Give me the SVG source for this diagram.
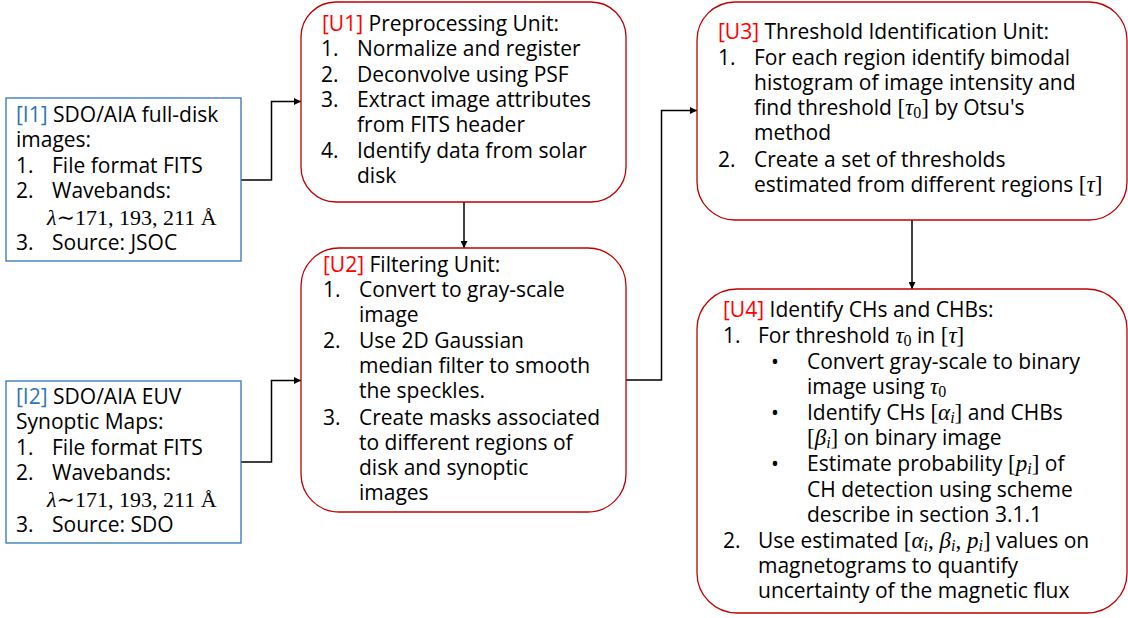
<svg xmlns="http://www.w3.org/2000/svg" width="1128" height="618" viewBox="0 0 1128 618">
<defs>
<style>
.t{font-family:"Open Sans","Liberation Sans",sans-serif;font-size:21px;fill:#000}
.m{font-family:"Liberation Serif","DejaVu Serif",serif;font-size:23px}
.w{font-family:"Liberation Serif","DejaVu Serif",serif;font-size:22px}
.i{font-style:italic}
.s{font-size:16px}
.lb{fill:#2E75B6}
.lr{fill:#FF0000}
.inb{fill:#fff;stroke:#2E75B6;stroke-width:1.3}
.unit{fill:#fff;stroke:#C00000;stroke-width:1.3}
.c{fill:none;stroke:#000;stroke-width:1.5}
</style>
<marker id="ah" viewBox="0 0 10 10" refX="10" refY="5" markerWidth="7" markerHeight="7" markerUnits="userSpaceOnUse" orient="auto">
<path d="M0,0 L10,5 L0,10 z" fill="#000"/>
</marker>
</defs>
<rect width="1128" height="618" fill="#fff"/>
<g id="connectors">
<polyline class="c" points="241,180 271.5,180 271.5,101.5 301,101.5" marker-end="url(#ah)"/>
<polyline class="c" points="241,462 271.5,462 271.5,380.5 301,380.5" marker-end="url(#ah)"/>
<polyline class="c" points="464,202 464,248" marker-end="url(#ah)"/>
<polyline class="c" points="626,380 661.5,380 661.5,110.5 697,110.5" marker-end="url(#ah)"/>
<polyline class="c" points="912,220 912,289" marker-end="url(#ah)"/>
</g>
<g id="I1">
<rect class="inb" x="6" y="98" width="235" height="163"/>
<text class="t">
<tspan x="16" y="122"><tspan class="lb">[I1]</tspan> SDO/AIA full-disk</tspan>
<tspan x="16" y="147">images:</tspan>
<tspan x="16" y="173">1.</tspan><tspan x="52" y="173">File format FITS</tspan>
<tspan x="16" y="198">2.</tspan><tspan x="52" y="198">Wavebands:</tspan>
<tspan x="47" y="225" class="w"><tspan class="i">λ</tspan>∼171, 193, 211 Å</tspan>
<tspan x="16" y="250">3.</tspan><tspan x="52" y="250">Source: JSOC</tspan>
</text>
</g>
<g id="I2">
<rect class="inb" x="6" y="381" width="235" height="162"/>
<text class="t">
<tspan x="16" y="404"><tspan class="lb">[I2]</tspan> SDO/AIA EUV</tspan>
<tspan x="16" y="429">Synoptic Maps:</tspan>
<tspan x="16" y="455">1.</tspan><tspan x="52" y="455">File format FITS</tspan>
<tspan x="16" y="480">2.</tspan><tspan x="52" y="480">Wavebands:</tspan>
<tspan x="47" y="507" class="w"><tspan class="i">λ</tspan>∼171, 193, 211 Å</tspan>
<tspan x="16" y="532">3.</tspan><tspan x="52" y="532">Source: SDO</tspan>
</text>
</g>
<g id="U1">
<rect class="unit" x="301" y="2" width="325" height="200" rx="35" ry="35"/>
<text class="t">
<tspan x="322" y="31"><tspan class="lr">[U1]</tspan> Preprocessing Unit:</tspan>
<tspan x="321" y="56">1.</tspan><tspan x="357" y="56">Normalize and register</tspan>
<tspan x="321" y="82">2.</tspan><tspan x="357" y="82">Deconvolve using PSF</tspan>
<tspan x="321" y="107">3.</tspan><tspan x="357" y="107">Extract image attributes</tspan>
<tspan x="357" y="132">from FITS header</tspan>
<tspan x="321" y="158">4.</tspan><tspan x="357" y="158">Identify data from solar</tspan>
<tspan x="357" y="183">disk</tspan>
</text>
</g>
<g id="U2">
<rect class="unit" x="301" y="248" width="325" height="264" rx="38" ry="38"/>
<text class="t">
<tspan x="323" y="272"><tspan class="lr">[U2]</tspan> Filtering Unit:</tspan>
<tspan x="323" y="297">1.</tspan><tspan x="359" y="297">Convert to gray-scale</tspan>
<tspan x="359" y="322">image</tspan>
<tspan x="323" y="348">2.</tspan><tspan x="359" y="348">Use 2D Gaussian</tspan>
<tspan x="359" y="373">median filter to smooth</tspan>
<tspan x="359" y="398">the speckles.</tspan>
<tspan x="323" y="425">3.</tspan><tspan x="359" y="425">Create masks associated</tspan>
<tspan x="359" y="450">to different regions of</tspan>
<tspan x="359" y="475">disk and synoptic</tspan>
<tspan x="359" y="500">images</tspan>
</text>
</g>
<g id="U3">
<rect class="unit" x="697" y="2" width="430" height="218" rx="38" ry="38"/>
<text class="t">
<tspan x="718" y="39"><tspan class="lr">[U3]</tspan> Threshold Identification Unit:</tspan>
<tspan x="718" y="65">1.</tspan><tspan x="754" y="65">For each region identify bimodal</tspan>
<tspan x="754" y="90">histogram of image intensity and</tspan>
<tspan x="754" y="115">find threshold <tspan class="m">[<tspan class="i">τ</tspan><tspan class="s" dy="3">0</tspan><tspan dy="-3">]</tspan></tspan> by Otsu's</tspan>
<tspan x="754" y="140">method</tspan>
<tspan x="718" y="167">2.</tspan><tspan x="754" y="167">Create a set of thresholds</tspan>
<tspan x="754" y="192">estimated from different regions <tspan class="m">[<tspan class="i">τ</tspan>]</tspan></tspan>
</text>
</g>
<g id="U4">
<rect class="unit" x="697" y="289" width="430" height="324" rx="40" ry="40"/>
<text class="t">
<tspan x="723" y="317"><tspan class="lr">[U4]</tspan> Identify CHs and CHBs:</tspan>
<tspan x="723" y="343">1.</tspan><tspan x="758" y="343">For threshold <tspan class="m"><tspan class="i">τ</tspan><tspan class="s" dy="3">0</tspan></tspan><tspan dy="-3"> in </tspan><tspan class="m">[<tspan class="i">τ</tspan>]</tspan></tspan>
<tspan x="771" y="369">•</tspan><tspan x="807" y="369">Convert gray-scale to binary</tspan>
<tspan x="807" y="394">image using <tspan class="m"><tspan class="i">τ</tspan><tspan class="s" dy="3">0</tspan></tspan></tspan>
<tspan x="771" y="420">•</tspan><tspan x="807" y="420">Identify CHs <tspan class="m">[<tspan class="i">α</tspan><tspan class="s i" dy="3">i</tspan><tspan dy="-3">]</tspan></tspan> and CHBs</tspan>
<tspan x="807" y="445"><tspan class="m">[<tspan class="i">β</tspan><tspan class="s i" dy="3">i</tspan><tspan dy="-3">]</tspan></tspan> on binary image</tspan>
<tspan x="771" y="471">•</tspan><tspan x="807" y="471">Estimate probability <tspan class="m">[<tspan class="i">p</tspan><tspan class="s i" dy="3">i</tspan><tspan dy="-3">]</tspan></tspan> of</tspan>
<tspan x="807" y="497">CH detection using scheme</tspan>
<tspan x="807" y="522">describe in section 3.1.1</tspan>
<tspan x="723" y="548">2.</tspan><tspan x="758" y="548">Use estimated <tspan class="m">[<tspan class="i">α</tspan><tspan class="s i" dy="3">i</tspan><tspan dy="-3">, </tspan><tspan class="i">β</tspan><tspan class="s i" dy="3">i</tspan><tspan dy="-3">, </tspan><tspan class="i">p</tspan><tspan class="s i" dy="3">i</tspan><tspan dy="-3">]</tspan></tspan> values on</tspan>
<tspan x="758" y="573">magnetograms to quantify</tspan>
<tspan x="758" y="598">uncertainty of the magnetic flux</tspan>
</text>
</g>
</svg>
